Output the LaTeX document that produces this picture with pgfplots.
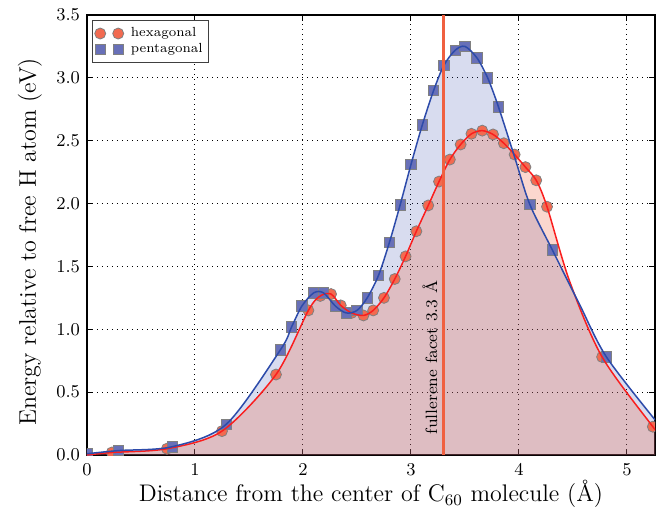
\documentclass[border=0pt]{standalone}
\usepackage{pgfplots}
\pgfplotsset{compat=1.18}
\definecolor{hexfill}{RGB}{242,106,80}
\definecolor{pentfill}{RGB}{104,112,184}
\definecolor{redline}{RGB}{250,30,30}
\definecolor{blueline}{RGB}{45,75,170}
\definecolor{vline}{RGB}{240,96,64}
\definecolor{bluearea}{RGB}{58,80,176}
\definecolor{redarea}{RGB}{240,96,60}

\pgfplotstableread{
x y
0.00 0.00
0.23 0.02
0.74 0.05
1.25 0.19
1.75 0.64
2.05 1.15
2.16 1.265
2.26 1.28
2.35 1.19
2.45 1.13
2.56 1.11
2.65 1.15
2.75 1.25
2.85 1.40
2.95 1.58
3.05 1.78
3.16 1.985
3.26 2.175
3.36 2.35
3.46 2.47
3.56 2.555
3.66 2.58
3.76 2.55
3.86 2.48
3.96 2.39
4.06 2.29
4.16 2.185
4.26 1.975
4.77 0.78
5.24 0.225
}\hexdata

\pgfplotstableread{
x y
0.00 0.00
0.23 0.02
0.74 0.05
1.25 0.19
1.75 0.64
2.05 1.15
2.16 1.265
2.26 1.28
2.35 1.19
2.45 1.13
2.56 1.11
2.65 1.15
2.75 1.25
2.85 1.40
2.95 1.58
3.05 1.78
3.16 1.985
3.26 2.175
3.36 2.35
3.46 2.47
3.56 2.555
3.66 2.58
3.76 2.55
3.86 2.48
3.96 2.39
4.06 2.29
4.16 2.185
4.26 1.975
4.47 1.38
4.77 0.78
5.24 0.225
5.26 0.215
}\hexcurve

\pgfplotstableread{
x y
0.00 0.01
0.29 0.035
0.79 0.066
1.29 0.245
1.79 0.835
1.895 1.02
1.99 1.185
2.10 1.29
2.19 1.29
2.30 1.185
2.40 1.13
2.50 1.15
2.595 1.25
2.70 1.43
2.80 1.69
2.90 1.99
3.00 2.31
3.105 2.625
3.21 2.90
3.305 3.10
3.41 3.22
3.50 3.25
3.61 3.16
3.71 3.00
3.81 2.77
4.10 1.995
4.31 1.63
4.81 0.78
}\pentdata

\pgfplotstableread{
x y
0.00 0.01
0.29 0.035
0.79 0.066
1.29 0.245
1.79 0.835
1.895 1.02
1.99 1.185
2.10 1.29
2.19 1.29
2.30 1.185
2.40 1.13
2.50 1.15
2.595 1.25
2.70 1.43
2.80 1.69
2.90 1.99
3.00 2.31
3.105 2.625
3.21 2.90
3.305 3.10
3.41 3.22
3.50 3.25
3.61 3.16
3.71 3.00
3.81 2.77
3.96 2.37
4.10 1.995
4.31 1.63
4.56 1.20
4.81 0.78
5.26 0.28
}\pentcurve

\begin{document}
\begin{tikzpicture}
\begin{axis}[
  at={(0,0)}, anchor=south west,
  scale only axis, width=284pt, height=220pt,
  xmin=0, xmax=5.26, ymin=0, ymax=3.5,
  xtick={0,1,2,3,4,5},
  ytick={0,0.5,1,1.5,2,2.5,3,3.5},
  yticklabel style={/pgf/number format/.cd, fixed, fixed zerofill, precision=1},
  ticklabel style={font=\fontsize{9}{10}\selectfont},
  xticklabel style={yshift=-1pt},
  axis line style={line width=1pt},
  tick style={black, line width=0.5pt},
  major tick length=3pt,
  grid=major,
  major grid style={black, line width=0.5pt, dash pattern=on 0.5pt off 2pt},
  label style={font=\fontsize{12}{14}\selectfont},
  xlabel={Distance from the center of C$_{60}$ molecule (\AA)},
  ylabel={Energy relative to free H atom (eV)},
  xlabel style={at={(axis description cs:0.5,0)}, anchor=center, yshift=-19.5pt},
  ylabel style={at={(axis description cs:0,0.5)}, anchor=center, yshift=28.5pt, xshift=-3.5pt},
  clip marker paths=true,
  legend style={at={(rel axis cs:0.009,0.989)}, anchor=north west,
    font=\fontsize{6.6}{8}\selectfont, draw=black!75, line width=0.6pt,
    inner xsep=1pt, inner ysep=1.5pt, row sep=-2pt, cells={anchor=west}},
  legend image code/.code={\draw[mark repeat=1,#1] plot coordinates {(0pt,0pt) (9pt,0pt)};
    \path (13pt,0pt);},
]
\addplot[forget plot, draw=none, fill=bluearea, fill opacity=0.2, smooth] table {\pentcurve} \closedcycle;
\addplot[forget plot, draw=none, fill=redarea, fill opacity=0.25, smooth] table {\hexcurve} \closedcycle;

\addplot[only marks, mark=*, mark size=2.75pt, mark options={fill=hexfill, draw=gray, line width=0.4pt}] table {\hexdata};
\addlegendentry{hexagonal}
\addplot[only marks, mark=square*, mark size=2.6pt, mark options={fill=pentfill, draw=gray, line width=0.4pt}] table {\pentdata};
\addlegendentry{pentagonal}

\addplot[forget plot, redline, line width=0.75pt, smooth] table {\hexcurve};
\addplot[forget plot, blueline, line width=0.75pt, smooth] table {\pentcurve};

\addplot[forget plot, vline, line width=1.5pt] coordinates {(3.3,0) (3.3,3.5)};
\node[rotate=90, font=\fontsize{8.2}{9}\selectfont] at (axis cs:3.176,0.776) {fullerene facet 3.3 \AA};
\end{axis}
\pgfresetboundingbox
\path[use as bounding box] (-43.5pt,-27pt) rectangle (285.5pt,227.5pt);
\end{tikzpicture}
\end{document}
